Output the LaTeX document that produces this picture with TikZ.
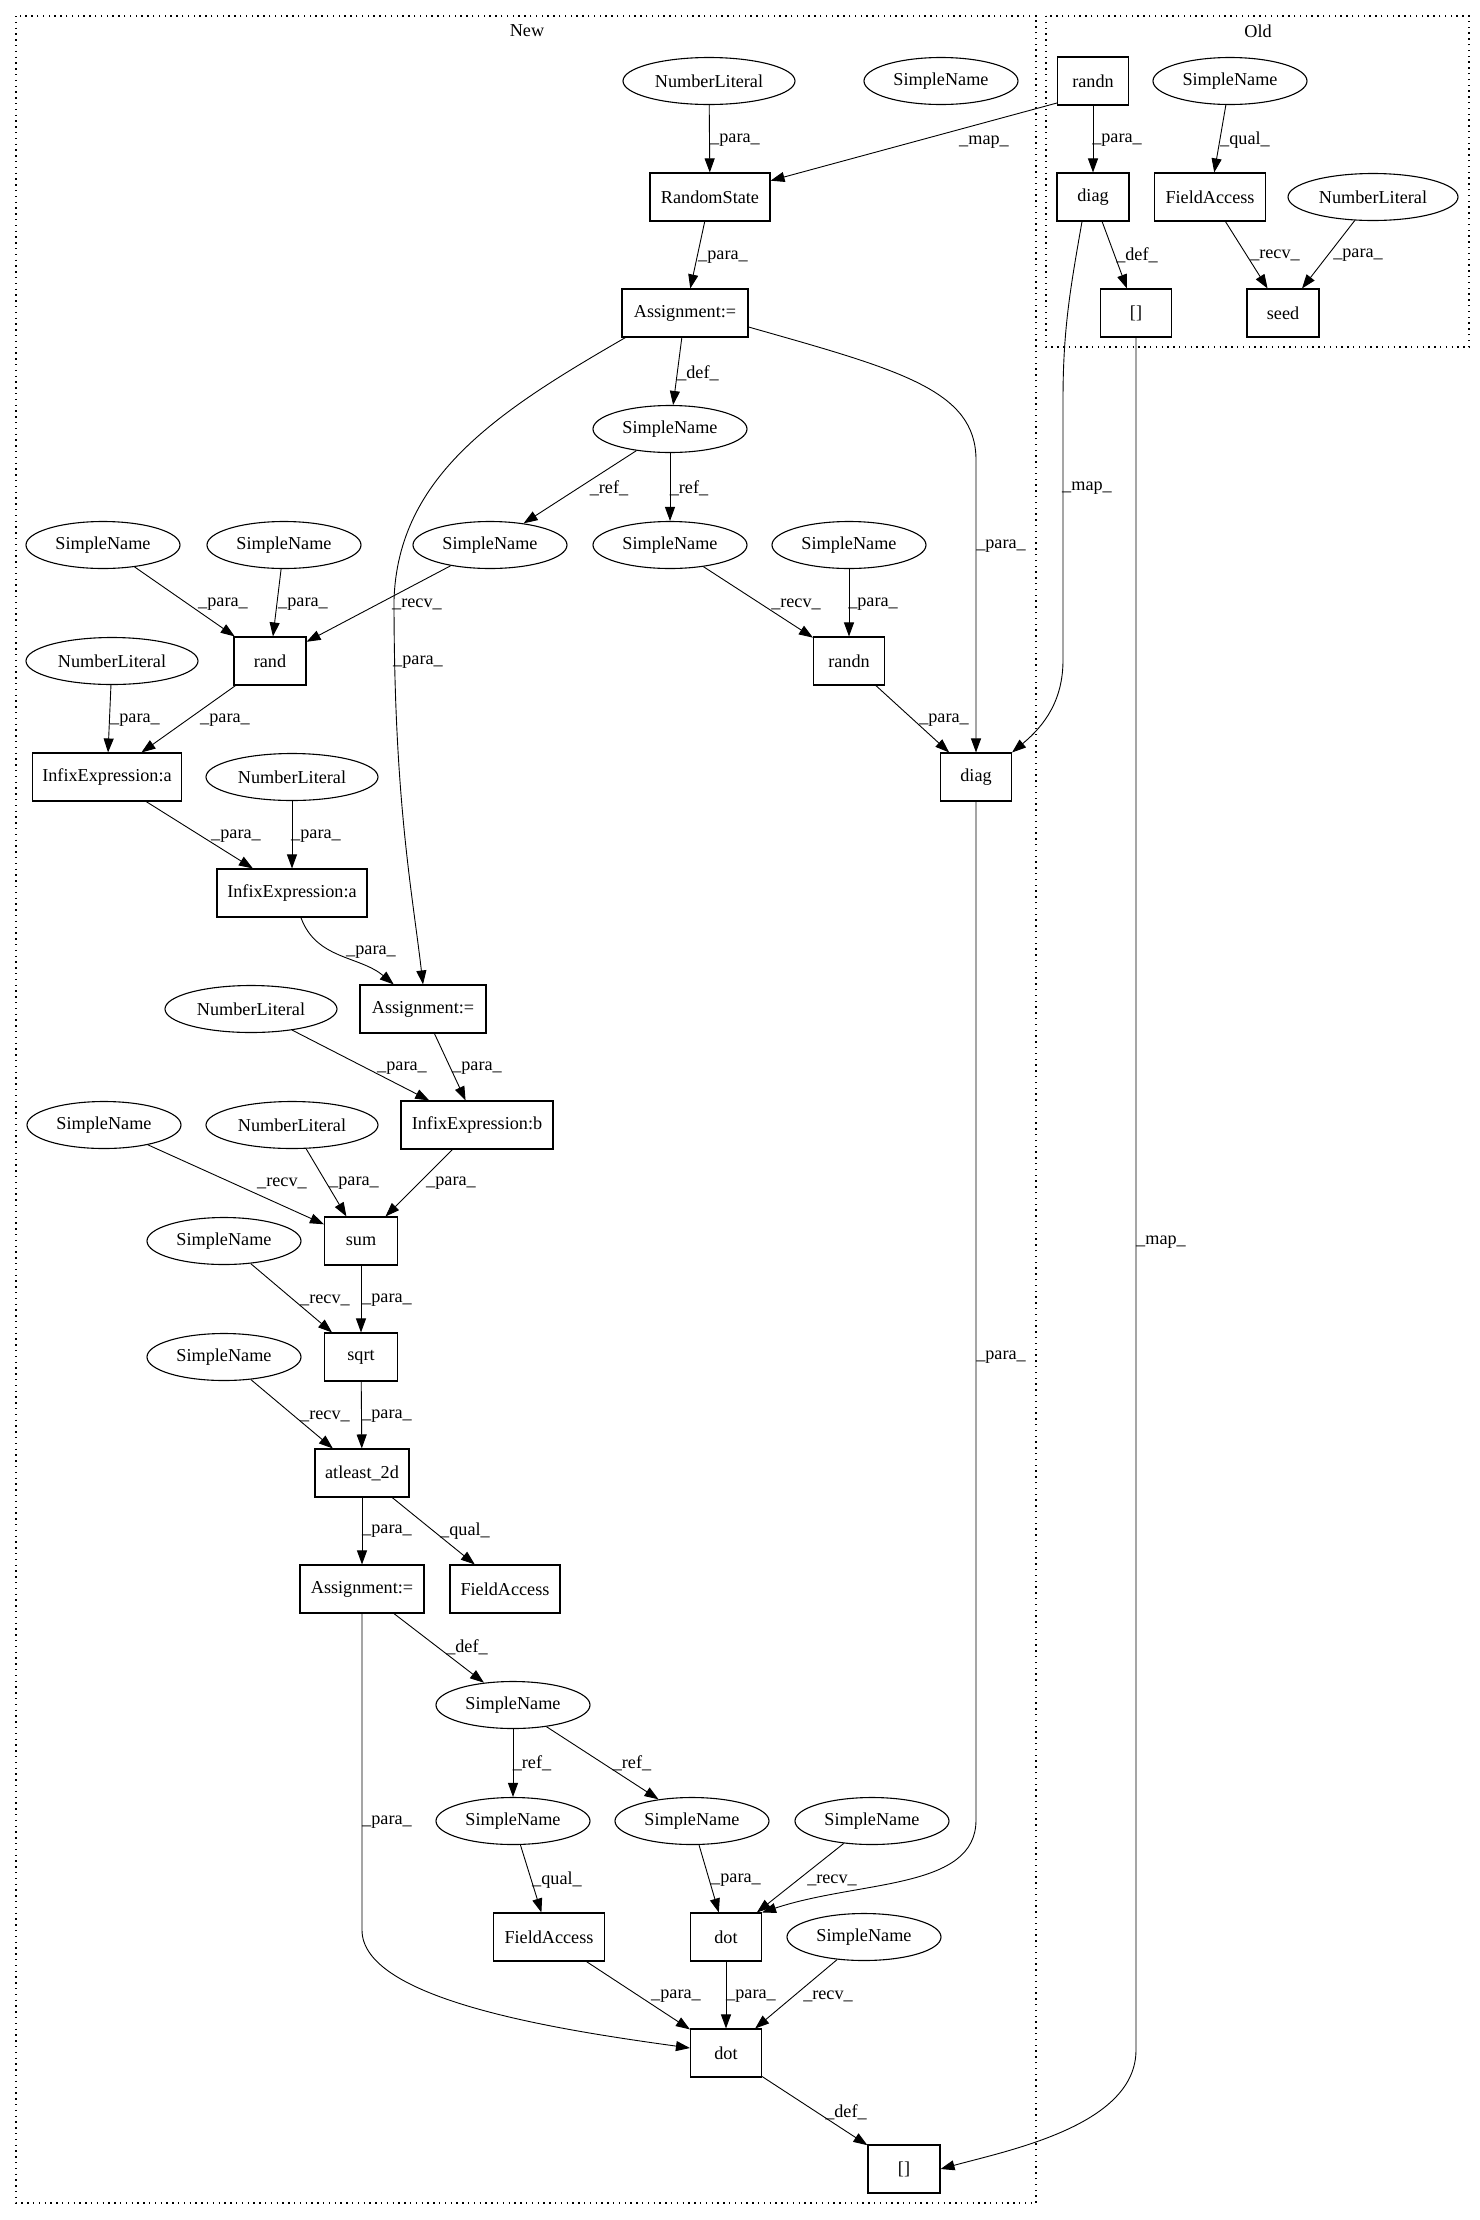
\documentclass[tikz,border=0pt]{standalone}
\usepackage{fontspec}
\setmainfont{Liberation Serif}
\usetikzlibrary{arrows.meta,shapes.geometric}
\begin{document}
\begin{tikzpicture}[x=1pt,y=-1pt,
  every node/.style={font=\fontsize{18.2}{22}\selectfont},
  box/.style={draw, rectangle, line width=1.1pt, minimum height=48pt, inner sep=0pt},
  sn/.style={draw, ellipse, line width=1.1pt, minimum width=154pt, minimum height=47pt, inner sep=0pt},
  nl/.style={sn, minimum width=172pt},
  conn/.style={line width=0.9pt, -{Triangle[length=14pt,width=10pt]}},
  lbl/.style={inner sep=0pt},
  clus/.style={line width=1.4pt, dash pattern=on 1.4pt off 4.4pt}]
\useasboundingbox (0,0) rectangle (1480,2220);
\fill[white] (0,0) rectangle (1480,2220);

% clusters
\draw[clus] (16,16) rectangle (1036,2203);
\node (tnew) at (527,31) {New};
\draw[clus] (1046,16) rectangle (1469,347);
\node (told) at (1258,31) {Old};

% Old nodes
\node[box, minimum width=71pt] (orandn) at (1093,81) {randn};
\node[sn] (osn) at (1230,81) {SimpleName};
\node[box, minimum width=72pt] (odiag) at (1093,197) {diag};
\node[box, minimum width=111pt] (ofa) at (1210,197) {FieldAccess};
\node[nl, minimum width=170pt] (onl) at (1373,197) {NumberLiteral};
\node[box, minimum width=71pt] (oidx) at (1136,313) {[]};
\node[box, minimum width=72pt] (oseed) at (1283,313) {seed};

% New nodes
\node[nl] (nl1) at (709,81) {NumberLiteral};
\node[sn] (snx) at (941,81) {SimpleName};
\node[box, minimum width=120pt] (rs) at (710,197) {RandomState};
\node[box, minimum width=126pt] (asg1) at (685,313) {Assignment:=};
\node[sn] (sn0) at (670,429) {SimpleName};
\node[sn] (sn1) at (103,545) {SimpleName};
\node[sn] (sn2) at (284,545) {SimpleName};
\node[sn] (sn3) at (490,545) {SimpleName};
\node[sn] (sn4) at (670,545) {SimpleName};
\node[sn] (sn5) at (849,545) {SimpleName};
\node[nl] (nl2) at (112,661) {NumberLiteral};
\node[box, minimum width=72pt] (rand) at (270,661) {rand};
\node[box, minimum width=71pt] (randn) at (849,661) {randn};
\node[box, minimum width=149pt] (ia1) at (107,777) {InfixExpression:a};
\node[nl] (nl3) at (292,777) {NumberLiteral};
\node[box, minimum width=71pt] (diag) at (976,777) {diag};
\node[box, minimum width=150pt] (ia2) at (292,893) {InfixExpression:a};
\node[nl] (nl4) at (251,1009) {NumberLiteral};
\node[box, minimum width=126pt] (asg2) at (423,1009) {Assignment:=};
\node[sn] (sn6) at (104,1125) {SimpleName};
\node[nl] (nl5) at (292,1125) {NumberLiteral};
\node[box, minimum width=152pt] (ib) at (477,1125) {InfixExpression:b};
\node[sn] (sn7) at (224,1241) {SimpleName};
\node[box, minimum width=73pt] (sum) at (361,1241) {sum};
\node[sn] (sn8) at (224,1357) {SimpleName};
\node[box, minimum width=73pt] (sqrt) at (361,1357) {sqrt};
\node[box, minimum width=94pt] (al) at (362,1473) {atleast\_2d};
\node[box, minimum width=124pt] (asg3) at (362,1589) {Assignment:=};
\node[box, minimum width=110pt] (fa1) at (505,1589) {FieldAccess};
\node[sn] (sn9) at (513,1705) {SimpleName};
\node[sn] (sn10) at (513,1821) {SimpleName};
\node[sn] (sn11) at (692,1821) {SimpleName};
\node[sn] (sn12) at (872,1821) {SimpleName};
\node[box, minimum width=111pt] (fa2) at (549,1937) {FieldAccess};
\node[box, minimum width=71pt] (dot1) at (726,1937) {dot};
\node[sn] (sn13) at (864,1937) {SimpleName};
\node[box, minimum width=71pt] (dot2) at (726,2053) {dot};
\node[box, minimum width=72pt] (nidx) at (904,2169) {[]};

% coordinates for curved connectors
\coordinate (c1) at (394,600);
\coordinate (c2) at (976,460);
\coordinate (c3) at (1063,400);
\coordinate (c4) at (1063,660);
\coordinate (c5) at (1136,2050);
\coordinate (c6) at (976,1820);
\coordinate (c7) at (362,1930);

% Old edges
\draw[conn] ([yshift=-22pt]orandn.west) -- (rs);
\draw[conn] (orandn) -- (odiag);
\draw[conn] (osn) -- (ofa);
\draw[conn] (odiag) -- (oidx);
\draw[conn] (ofa) -- (oseed);
\draw[conn] (onl) -- (oseed);
\draw[conn] ([xshift=-11pt]odiag.south) .. controls (1070,290) and (1063,330) .. (c3) -- (c4) .. controls (1063,700) and (1045,725) .. (diag.north east);
\draw[conn] (oidx.south) -- (c5) .. controls (1136,2125) and (1010,2150) .. (nidx.east);

% New edges
\draw[conn] (nl1) -- (rs);
\draw[conn] (rs) -- (asg1);
\draw[conn] (asg1) -- (sn0);
\draw[conn] ([xshift=4pt]asg1.south west) .. controls (500,410) and (398,475) .. (c1) .. controls (394,800) and (412,890) .. (asg2.north);
\draw[conn] ([yshift=-14pt]asg1.east) .. controls (900,370) and (976,390) .. (c2) -- (diag.north);
\draw[conn] (sn0) -- (sn3);
\draw[conn] (sn0) -- (sn4);
\draw[conn] (sn1) -- (rand);
\draw[conn] (sn2) -- (rand);
\draw[conn] (sn3) -- (rand);
\draw[conn] (sn4) -- (randn);
\draw[conn] (sn5) -- (randn);
\draw[conn] (nl2) -- (ia1);
\draw[conn] (rand) -- (ia1);
\draw[conn] (randn) -- (diag);
\draw[conn] (ia1) -- (ia2);
\draw[conn] (nl3) -- (ia2);
\draw[conn] (ia2) to[out=-70,in=140] (asg2);
\draw[conn] (nl4) -- (ib);
\draw[conn] (asg2) -- (ib);
\draw[conn] (sn6) -- (sum);
\draw[conn] (nl5) -- (sum);
\draw[conn] (ib) -- (sum);
\draw[conn] (sn7) -- (sqrt);
\draw[conn] (sum) -- (sqrt);
\draw[conn] (sn8) -- (al);
\draw[conn] (sqrt) -- (al);
\draw[conn] (al) -- (asg3);
\draw[conn] (al) -- (fa1);
\draw[conn] (asg3) -- (sn9);
\draw[conn] (asg3.south) -- (c7) .. controls (362,2000) and (560,2030) .. ([yshift=5pt]dot2.west);
\draw[conn] (sn9) -- (sn10);
\draw[conn] (sn9) -- (sn11);
\draw[conn] (sn10) -- (fa2);
\draw[conn] (sn11) -- (dot1);
\draw[conn] (sn12) -- (dot1);
\draw[conn] (diag.south) -- (c6) .. controls (976,1890) and (860,1880) .. (dot1.north east);
\draw[conn] (fa2) -- (dot2);
\draw[conn] (dot1) -- (dot2);
\draw[conn] (sn13) -- (dot2);
\draw[conn] (dot2) -- (nidx);

% labels (Old)
\node[lbl] (la1) at (984,142) {\_map\_};
\node[lbl] (la2) at (1117,140) {\_para\_};
\node[lbl] (la3) at (1245,140) {\_qual\_};
\node[lbl] (la4) at (1137,255) {\_def\_};
\node[lbl] (la5) at (1275,255) {\_recv\_};
\node[lbl] (la6) at (1358,255) {\_para\_};
% labels (New)
\node[lbl] (lb1) at (735,140) {\_para\_};
\node[lbl] (lb2) at (723,257) {\_para\_};
\node[lbl] (lb3) at (698,373) {\_def\_};
\node[lbl] (lb4) at (1087,488) {\_map\_};
\node[lbl] (lb5) at (609,488) {\_ref\_};
\node[lbl] (lb6) at (689,488) {\_ref\_};
\node[lbl] (lb7) at (1001,546) {\_para\_};
\node[lbl] (lb8) at (223,604) {\_para\_};
\node[lbl] (lb9) at (303,604) {\_para\_};
\node[lbl] (lb10) at (417,604) {\_recv\_};
\node[lbl] (lb11) at (796,604) {\_recv\_};
\node[lbl] (lb12) at (873,604) {\_para\_};
\node[lbl] (lb13) at (418,662) {\_para\_};
\node[lbl] (lb14) at (135,720) {\_para\_};
\node[lbl] (lb15) at (225,720) {\_para\_};
\node[lbl] (lb16) at (944,720) {\_para\_};
\node[lbl] (lb17) at (236,836) {\_para\_};
\node[lbl] (lb18) at (316,836) {\_para\_};
\node[lbl] (lb19) at (371,952) {\_para\_};
\node[lbl] (lb20) at (402,1068) {\_para\_};
\node[lbl] (lb21) at (477,1068) {\_para\_};
\node[lbl] (lb22) at (282,1183) {\_recv\_};
\node[lbl] (lb23) at (354,1183) {\_para\_};
\node[lbl] (lb24) at (451,1183) {\_para\_};
\node[lbl] (lb25) at (1161,1242) {\_map\_};
\node[lbl] (lb26) at (325,1300) {\_recv\_};
\node[lbl] (lb27) at (387,1300) {\_para\_};
\node[lbl] (lb28) at (1001,1357) {\_para\_};
\node[lbl] (lb29) at (325,1416) {\_recv\_};
\node[lbl] (lb30) at (387,1416) {\_para\_};
\node[lbl] (lb31) at (387,1531) {\_para\_};
\node[lbl] (lb32) at (465,1531) {\_qual\_};
\node[lbl] (lb33) at (467,1647) {\_def\_};
\node[lbl] (lb34) at (532,1763) {\_ref\_};
\node[lbl] (lb35) at (632,1763) {\_ref\_};
\node[lbl] (lb36) at (387,1822) {\_para\_};
\node[lbl] (lb37) at (557,1880) {\_qual\_};
\node[lbl] (lb38) at (736,1880) {\_para\_};
\node[lbl] (lb39) at (832,1880) {\_recv\_};
\node[lbl] (lb40) at (676,1996) {\_para\_};
\node[lbl] (lb41) at (751,1996) {\_para\_};
\node[lbl] (lb42) at (828,1996) {\_recv\_};
\node[lbl] (lb43) at (846,2112) {\_def\_};
\end{tikzpicture}
\end{document}
